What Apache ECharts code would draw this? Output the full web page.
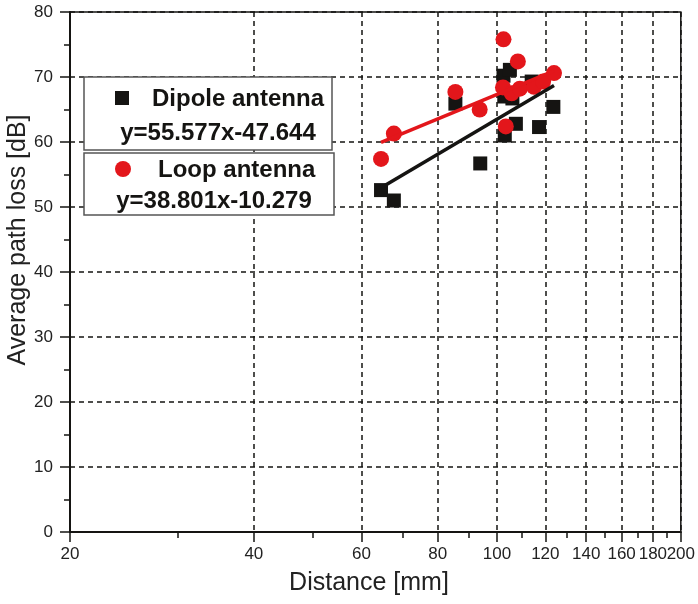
<!DOCTYPE html>
<html>
<head>
<meta charset="utf-8">
<script src="https://cdn.jsdelivr.net/npm/echarts@6/dist/echarts.min.js"></script>
<style>
  html, body { margin: 0; padding: 0; background: #fff; }
  #chart { width: 698px; height: 604px; }
</style>
</head>
<body>
<div id="chart"></div>
<script>
// Distance axis (logarithmic) tick values
const distanceTicks = [20, 40, 60, 80, 100, 120, 140, 160, 180, 200];
const distanceMinorTicks = [30, 50, 70, 90, 110, 130, 150, 170, 190];

// Measured average path loss, dipole antenna
const dipoleDistance = [64.6, 67.8, 85.5, 93.9, 102.5, 105.0, 102.8, 107.4, 103.0, 117.2, 123.7, 114.0, 106.0];
const dipoleLoss     = [52.6, 51.0, 65.9, 56.7, 70.2, 71.1, 67.0, 62.8, 61.0, 62.3, 65.4, 69.3, 66.7];

// Measured average path loss, loop antenna
const loopDistance = [64.6, 67.8, 85.5, 93.7, 102.5, 108.2, 103.4, 102.3, 105.7, 109.0, 115.0, 119.0, 124.0];
const loopLoss     = [57.4, 61.3, 67.7, 65.0, 75.8, 72.4, 62.4, 68.4, 67.5, 68.2, 68.5, 69.3, 70.6];

// Logarithmic fits: loss = slope * log10(distance) + intercept
const dipoleFit = { slope: 55.577, intercept: -47.644 };
const loopFit   = { slope: 38.801, intercept: -10.279 };
const fitRange  = [64.6, 124.0];

const BLACK = '#151412';
const RED = '#e3161b';
const FONT = '"Liberation Sans", Arial, sans-serif';

function pairs(xs, ys) { return xs.map((x, i) => [x, ys[i]]); }
function fitLine(fit) {
  return fitRange.map(d => [d, fit.slope * Math.log10(d) + fit.intercept]);
}

// The last tick label sits on its own axis so the tight pair 180/200 both stay visible
const lastTick = distanceTicks[distanceTicks.length - 1];
const innerTicks = distanceTicks.slice(0, -1);

const tickLabelStyle = {
  margin: 14, color: '#222', fontSize: 17, fontFamily: FONT, hideOverlap: false,
  showMinLabel: true, showMaxLabel: true, formatter: v => String(Math.round(v))
};

const chart = echarts.init(document.getElementById('chart'), null, { renderer: 'canvas' });

const option = {
  animation: false,
  backgroundColor: '#fff',
  grid: {
    left: 70, right: 15, top: 12, bottom: 72,
    show: true, borderColor: BLACK, borderWidth: 1.5, backgroundColor: 'transparent'
  },
  xAxis: [
    {
      type: 'log', logBase: 10, min: 20, max: 200, position: 'bottom',
      axisLine: { show: true, onZero: false, lineStyle: { color: BLACK, width: 2 } },
      axisTick: { show: true, inside: false, length: 10, customValues: distanceTicks,
                  lineStyle: { color: BLACK, width: 1.5 } },
      axisLabel: Object.assign({ customValues: innerTicks }, tickLabelStyle),
      splitLine: { show: true, lineStyle: { color: BLACK, width: 1.5, type: [5, 4] } },
      minorTick: { show: false }, minorSplitLine: { show: false }
    },
    {
      type: 'log', logBase: 10, min: 20, max: 200, position: 'bottom',
      axisLine: { show: false },
      axisTick: { show: true, inside: false, length: 6, customValues: distanceMinorTicks,
                  lineStyle: { color: BLACK, width: 1.5 } },
      axisLabel: Object.assign({ customValues: [lastTick] }, tickLabelStyle),
      splitLine: { show: false }
    }
  ],
  yAxis: {
    type: 'value', min: 0, max: 80, interval: 10,
    axisLine: { show: true, onZero: false, lineStyle: { color: BLACK, width: 2 } },
    axisTick: { show: true, inside: false, length: 10, lineStyle: { color: BLACK, width: 1.5 } },
    minorTick: { show: true, splitNumber: 2, length: 6, lineStyle: { color: BLACK, width: 1.5 } },
    axisLabel: { margin: 17, color: '#222', fontSize: 17, fontFamily: FONT },
    splitLine: { show: true, lineStyle: { color: BLACK, width: 1.5, type: [5, 4] } }
  },
  series: [
    {
      name: 'Dipole antenna', type: 'scatter', symbol: 'rect', symbolSize: 14, z: 2,
      itemStyle: { color: BLACK, opacity: 1 }, data: pairs(dipoleDistance, dipoleLoss)
    },
    {
      name: 'Loop antenna', type: 'scatter', symbol: 'circle', symbolSize: 16, z: 3,
      itemStyle: { color: RED, opacity: 1 }, data: pairs(loopDistance, loopLoss)
    },
    {
      name: 'Loop fit', type: 'line', showSymbol: false, z: 4,
      lineStyle: { color: RED, width: 3.5 }, data: fitLine(loopFit)
    },
    {
      name: 'Dipole fit', type: 'line', showSymbol: false, z: 5,
      lineStyle: { color: BLACK, width: 3.5 }, data: fitLine(dipoleFit)
    }
  ],
  graphic: [
    // axis titles
    { type: 'text', x: 18, y: 240, rotation: Math.PI / 2, z: 10,
      style: { text: 'Average path loss [dB]', font: '25px ' + FONT, fill: '#222',
               align: 'center', verticalAlign: 'middle' } },
    { type: 'text', x: 369, y: 583, z: 10,
      style: { text: 'Distance [mm]', font: '25px ' + FONT, fill: '#222',
               align: 'center', verticalAlign: 'middle' } },
    // legend box: dipole
    { type: 'rect', z: 20, shape: { x: 84, y: 77, width: 248, height: 73 },
      style: { fill: '#fff', stroke: '#555', lineWidth: 1.5 } },
    { type: 'rect', z: 21, shape: { x: 115, y: 91, width: 14, height: 14 },
      style: { fill: BLACK } },
    { type: 'text', x: 152, y: 99, z: 21,
      style: { text: 'Dipole antenna', font: 'bold 24px ' + FONT, fill: BLACK,
               align: 'left', verticalAlign: 'middle' } },
    { type: 'text', x: 218, y: 133, z: 21,
      style: { text: 'y=55.577x-47.644', font: 'bold 24px ' + FONT, fill: BLACK,
               align: 'center', verticalAlign: 'middle' } },
    // legend box: loop
    { type: 'rect', z: 20, shape: { x: 84, y: 153, width: 250, height: 62 },
      style: { fill: '#fff', stroke: '#555', lineWidth: 1.5 } },
    { type: 'circle', z: 21, shape: { cx: 123, cy: 169, r: 8 },
      style: { fill: RED } },
    { type: 'text', x: 158, y: 170, z: 21,
      style: { text: 'Loop antenna', font: 'bold 24px ' + FONT, fill: BLACK,
               align: 'left', verticalAlign: 'middle' } },
    { type: 'text', x: 214, y: 201, z: 21,
      style: { text: 'y=38.801x-10.279', font: 'bold 24px ' + FONT, fill: BLACK,
               align: 'center', verticalAlign: 'middle' } }
  ]
};

chart.setOption(option);
</script>
</body>
</html>
